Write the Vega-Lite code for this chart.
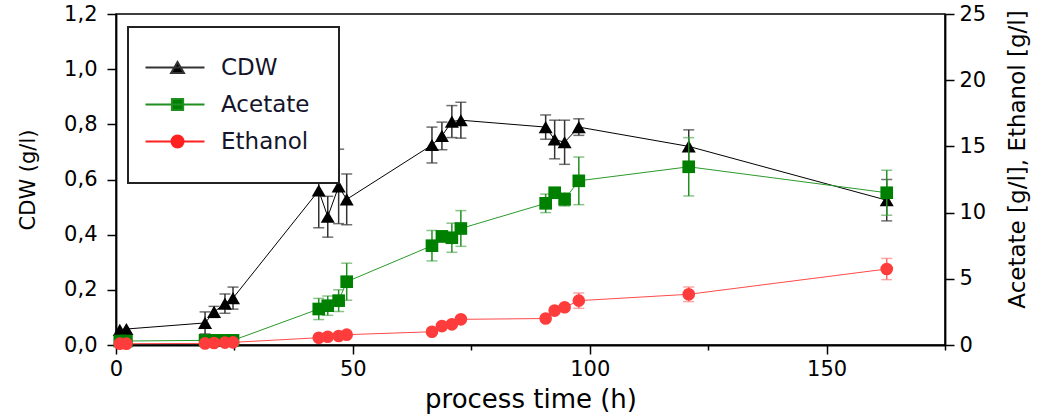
{
  "$schema": "https://vega.github.io/schema/vega-lite/v6.json",
  "autosize": "none",
  "width": 829,
  "height": 331,
  "padding": {"left": 116, "top": 14, "right": 98, "bottom": 74},
  "background": "white",
  "config": {
    "font": "DejaVu Sans",
    "view": {"stroke": "black", "strokeWidth": 1.5},
    "axis": {
      "domainColor": "black", "domainWidth": 1.8, "tickColor": "black", "tickWidth": 1.5,
      "labelColor": "black", "titleColor": "black", "labelFontSize": 21, "grid": false,
      "titleFontWeight": "normal", "labelFont": "DejaVu Sans", "titleFont": "DejaVu Sans"
    },
    "legend": {
      "orient": "none", "legendX": 12, "legendY": 13,
      "strokeColor": "#222222", "strokeWidth": 2, "padding": 29, "fillColor": "white",
      "symbolSize": 196, "symbolStrokeWidth": 2, "labelFontSize": 23, "labelColor": "#14142a",
      "labelFont": "DejaVu Sans", "labelOffset": 41, "rowPadding": 13, "labelLimit": 300
    }
  },
  "datasets": {
    "d": [
      {"t": 0.8, "s": "CDW", "v": 0.055, "e": null},
      {"t": 2.2, "s": "CDW", "v": 0.058, "e": null},
      {"t": 18.8, "s": "CDW", "v": 0.08, "e": 0.04},
      {"t": 20.7, "s": "CDW", "v": 0.12, "e": 0.02},
      {"t": 23.0, "s": "CDW", "v": 0.15, "e": 0.035},
      {"t": 24.7, "s": "CDW", "v": 0.17, "e": 0.04},
      {"t": 42.8, "s": "CDW", "v": 0.56, "e": 0.135},
      {"t": 44.7, "s": "CDW", "v": 0.465, "e": 0.074},
      {"t": 47.0, "s": "CDW", "v": 0.575, "e": 0.135},
      {"t": 48.7, "s": "CDW", "v": 0.528, "e": 0.092},
      {"t": 66.7, "s": "CDW", "v": 0.725, "e": 0.065},
      {"t": 68.8, "s": "CDW", "v": 0.758, "e": 0.05},
      {"t": 70.9, "s": "CDW", "v": 0.81, "e": 0.058},
      {"t": 72.8, "s": "CDW", "v": 0.815, "e": 0.065},
      {"t": 90.7, "s": "CDW", "v": 0.79, "e": 0.044},
      {"t": 92.6, "s": "CDW", "v": 0.745, "e": 0.07},
      {"t": 94.7, "s": "CDW", "v": 0.735, "e": 0.08},
      {"t": 97.7, "s": "CDW", "v": 0.79, "e": 0.03},
      {"t": 120.9, "s": "CDW", "v": 0.72, "e": 0.06},
      {"t": 162.7, "s": "CDW", "v": 0.525, "e": 0.075},
      {"t": 0.8, "s": "Acetate", "v": 0.3, "e": null},
      {"t": 2.2, "s": "Acetate", "v": 0.3, "e": null},
      {"t": 18.8, "s": "Acetate", "v": 0.35, "e": null},
      {"t": 20.7, "s": "Acetate", "v": 0.35, "e": null},
      {"t": 23.0, "s": "Acetate", "v": 0.35, "e": null},
      {"t": 24.7, "s": "Acetate", "v": 0.35, "e": null},
      {"t": 42.8, "s": "Acetate", "v": 2.72, "e": 0.8},
      {"t": 44.7, "s": "Acetate", "v": 2.97, "e": 0.73},
      {"t": 47.0, "s": "Acetate", "v": 3.35, "e": 0.82},
      {"t": 48.7, "s": "Acetate", "v": 4.78, "e": 1.4},
      {"t": 66.7, "s": "Acetate", "v": 7.5, "e": 1.15},
      {"t": 68.8, "s": "Acetate", "v": 8.2, "e": 0.4},
      {"t": 70.9, "s": "Acetate", "v": 8.1, "e": 1.1},
      {"t": 72.8, "s": "Acetate", "v": 8.8, "e": 1.35},
      {"t": 90.7, "s": "Acetate", "v": 10.7, "e": 0.7},
      {"t": 92.6, "s": "Acetate", "v": 11.5, "e": 0.3},
      {"t": 94.7, "s": "Acetate", "v": 11.0, "e": 0.5},
      {"t": 97.7, "s": "Acetate", "v": 12.4, "e": 1.8},
      {"t": 120.9, "s": "Acetate", "v": 13.46, "e": 2.2},
      {"t": 162.7, "s": "Acetate", "v": 11.5, "e": 1.7},
      {"t": 0.8, "s": "Ethanol", "v": 0.1, "e": null},
      {"t": 2.2, "s": "Ethanol", "v": 0.1, "e": null},
      {"t": 18.8, "s": "Ethanol", "v": 0.12, "e": null},
      {"t": 20.7, "s": "Ethanol", "v": 0.15, "e": null},
      {"t": 23.0, "s": "Ethanol", "v": 0.18, "e": null},
      {"t": 24.7, "s": "Ethanol", "v": 0.2, "e": null},
      {"t": 42.8, "s": "Ethanol", "v": 0.55, "e": null},
      {"t": 44.7, "s": "Ethanol", "v": 0.62, "e": null},
      {"t": 47.0, "s": "Ethanol", "v": 0.68, "e": null},
      {"t": 48.7, "s": "Ethanol", "v": 0.78, "e": null},
      {"t": 66.7, "s": "Ethanol", "v": 1.0, "e": null},
      {"t": 68.8, "s": "Ethanol", "v": 1.43, "e": null},
      {"t": 70.9, "s": "Ethanol", "v": 1.56, "e": null},
      {"t": 72.8, "s": "Ethanol", "v": 1.94, "e": null},
      {"t": 90.7, "s": "Ethanol", "v": 2.0, "e": null},
      {"t": 92.6, "s": "Ethanol", "v": 2.6, "e": null},
      {"t": 94.7, "s": "Ethanol", "v": 2.85, "e": null},
      {"t": 97.7, "s": "Ethanol", "v": 3.35, "e": 0.58},
      {"t": 120.9, "s": "Ethanol", "v": 3.83, "e": 0.55},
      {"t": 162.7, "s": "Ethanol", "v": 5.74, "e": 0.8}
    ]
  },
  "data": {"name": "d"},
  "layer": [
    {
      "transform": [{"filter": "datum.s === 'CDW'"}],
      "encoding": {
        "x": {
          "field": "t", "type": "quantitative",
          "scale": {"domain": [0, 175], "nice": false, "zero": false},
          "axis": {
            "values": [0, 25, 50, 75, 100, 125, 150, 175],
            "labelExpr": "datum.value % 50 === 0 ? datum.label : ''",
            "tickSize": {"condition": {"test": "datum.value % 50 === 0", "value": 9}, "value": 5},
            "labelFlush": false,
            "labelPadding": 4, "title": "process time (h)", "titleFontSize": 26, "titlePadding": 7
          }
        }
      },
      "layer": [
        {
          "mark": {"type": "line", "color": "black", "strokeWidth": 1},
          "encoding": {
            "y": {
              "field": "v", "type": "quantitative", "title": "CDW (g/l)",
              "scale": {"domain": [0, 1.2], "nice": false},
              "axis": {
                "values": [0, 0.1, 0.2, 0.3, 0.4, 0.5, 0.6, 0.7, 0.8, 0.9, 1.0, 1.1, 1.2],
                "labelExpr": "round(datum.value * 10) % 2 === 0 ? replace(format(datum.value, '.1f'), '.', ',') : ''",
                "tickSize": {"condition": {"test": "round(datum.value * 10) % 2 === 0", "value": 9}, "value": 5},
                "labelPadding": 10, "titleFontSize": 21, "titlePadding": 25
              }
            }
          }
        },
        {
          "transform": [{"filter": "datum.e != null"}],
          "mark": {"type": "errorbar", "color": "#333333", "thickness": 1.5, "ticks": {"size": 11, "color": "#333333"}},
          "encoding": {
            "y": {"field": "v", "type": "quantitative", "title": "CDW (g/l)"},
            "yError": {"field": "e"}
          }
        },
        {
          "mark": {"type": "point", "shape": "triangle-up", "filled": true, "color": "black", "size": 196, "opacity": 1},
          "encoding": {"y": {"field": "v", "type": "quantitative", "title": "CDW (g/l)"}}
        }
      ]
    },
    {
      "encoding": {"x": {"field": "t", "type": "quantitative"}},
      "layer": [
        {
          "transform": [{"filter": "datum.s === 'Acetate'"}],
          "mark": {"type": "line", "color": "#2a9a2a", "strokeWidth": 1},
          "encoding": {
            "y": {
              "field": "v", "type": "quantitative", "title": "Acetate [g/l], Ethanol [g/l]",
              "scale": {"domain": [0, 25], "nice": false},
              "axis": {
                "orient": "right",
                "values": [0, 2.5, 5, 7.5, 10, 12.5, 15, 17.5, 20, 22.5, 25],
                "labelExpr": "datum.value % 5 === 0 ? datum.label : ''",
                "tickSize": {"condition": {"test": "datum.value % 5 === 0", "value": 9}, "value": 5},
                "labelPadding": 5, "titleFontSize": 23, "titlePadding": 21,
                "titleAngle": 270, "titleBaseline": "top", "titleAlign": "center", "titleY": 145
              }
            }
          }
        },
        {
          "transform": [{"filter": "datum.s === 'Ethanol'"}],
          "mark": {"type": "line", "color": "#ff4a4a", "strokeWidth": 1},
          "encoding": {"y": {"field": "v", "type": "quantitative", "title": "Acetate [g/l], Ethanol [g/l]"}}
        },
        {
          "transform": [{"filter": "datum.s === 'Acetate' && datum.e != null"}],
          "mark": {"type": "errorbar", "color": "#1f8f1f", "thickness": 1.5, "ticks": {"size": 11, "color": "#5aab5a"}},
          "encoding": {
            "y": {"field": "v", "type": "quantitative", "title": "Acetate [g/l], Ethanol [g/l]"},
            "yError": {"field": "e"}
          }
        },
        {
          "transform": [{"filter": "datum.s === 'Ethanol' && datum.e != null"}],
          "mark": {"type": "errorbar", "color": "#ff6a6a", "thickness": 1.5, "ticks": {"size": 11, "color": "#ff8080"}},
          "encoding": {
            "y": {"field": "v", "type": "quantitative", "title": "Acetate [g/l], Ethanol [g/l]"},
            "yError": {"field": "e"}
          }
        },
        {
          "transform": [{"filter": "datum.s === 'Acetate'"}],
          "mark": {"type": "point", "shape": "square", "filled": true, "color": "#008000", "size": 160, "opacity": 1},
          "encoding": {"y": {"field": "v", "type": "quantitative", "title": "Acetate [g/l], Ethanol [g/l]"}}
        },
        {
          "transform": [{"filter": "datum.s === 'Ethanol'"}],
          "mark": {"type": "point", "shape": "circle", "filled": true, "color": "#ff3c3c", "size": 160, "opacity": 1},
          "encoding": {"y": {"field": "v", "type": "quantitative", "title": "Acetate [g/l], Ethanol [g/l]"}}
        },
        {
          "transform": [{"filter": "datum.v < -1000"}],
          "mark": {"type": "point", "filled": true, "opacity": 1},
          "encoding": {
            "y": {"field": "v", "type": "quantitative", "title": "Acetate [g/l], Ethanol [g/l]"},
            "fill": {
              "field": "s", "type": "nominal", "title": null,
              "scale": {"domain": ["CDW", "Acetate", "Ethanol"], "range": ["black", "#008000", "#ff2020"]}
            },
            "stroke": {
              "field": "s", "type": "nominal", "title": null,
              "scale": {"domain": ["CDW", "Acetate", "Ethanol"], "range": ["#333333", "#1f8f1f", "#ff2020"]}
            },
            "shape": {
              "field": "s", "type": "nominal", "title": null,
              "scale": {
                "domain": ["CDW", "Acetate", "Ethanol"],
                "range": [
                  "M-3.28,0H5.14M1.29,-0.8L2.21,0.8L0.37,0.8Z",
                  "M-3.28,0H5.14M0.49,-0.8H2.09V0.8H0.49Z",
                  "M-3.28,0H5.14M0.43,0A0.86,0.86,0,1,0,2.15,0A0.86,0.86,0,1,0,0.43,0Z"
                ]
              }
            }
          }
        }
      ]
    }
  ],
  "resolve": {"scale": {"y": "independent"}}
}
